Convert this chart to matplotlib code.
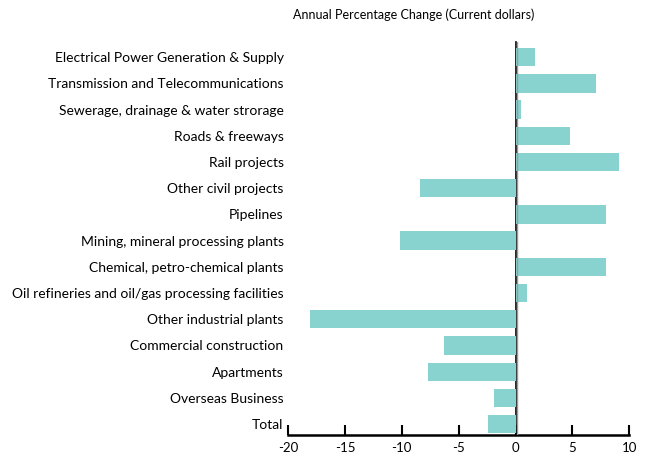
import matplotlib.pyplot as plt
import matplotlib.transforms as mtransforms

# categorias e variação anual (%)
categorias = [
    "Electrical Power Generation & Supply",
    "Transmission and Telecommunications",
    "Sewerage, drainage & water strorage",
    "Roads & freeways",
    "Rail projects",
    "Other civil projects",
    "Pipelines",
    "Mining, mineral processing plants",
    "Chemical, petro-chemical plants",
    "Oil refineries and oil/gas processing facilities",
    "Other industrial plants",
    "Commercial construction",
    "Apartments",
    "Overseas Business",
    "Total",
]
variacao = [1.7, 7.1, 0.5, 4.8, 9.1, -8.4, 8.0, -10.2, 8.0, 1.0, -18.1, -6.3, -7.7, -1.9, -2.4]
ticks_x = [-20, -15, -10, -5, 0, 5, 10]

plt.rcParams['font.family'] = ['Lato', 'DejaVu Sans']

fig = plt.figure(figsize=(6.46, 4.59), dpi=100)
ax = fig.add_axes([0.446, 0.052, 0.528, 0.856])

pos = list(range(len(categorias)))
ax.barh(pos, variacao, height=0.7, color='#88d3d0', zorder=2)

ax.set_ylim(len(categorias) - 0.58, -0.57)
ax.set_xlim(-20, 10)
ax.set_yticks(pos)
ax.set_yticklabels(categorias, fontsize=9.5)
ax.set_xticks(ticks_x)
ax.set_xticklabels([str(t) for t in ticks_x], fontsize=9.5)

# eixo y no zero
for s in ['top', 'right']:
    ax.spines[s].set_visible(False)
ax.spines['left'].set_position(('data', 0))
ax.spines['left'].set_linewidth(1.2)
ax.spines['left'].set_zorder(1)
ax.axvline(0.1, color='#999999', lw=1, zorder=3)
ax.spines['bottom'].set_linewidth(1.8)

ax.tick_params(axis='y', length=0, pad=0)
ax.tick_params(axis='x', direction='in', length=7, width=1.5, pad=5)
# rótulos do y alinhados à esquerda do gráfico
desloc = mtransforms.ScaledTranslation(-(515 - 283) / 100, 0, fig.dpi_scale_trans)
for lbl in ax.get_yticklabels():
    lbl.set_transform(lbl.get_transform() + desloc)

fig.text(0.641, 0.968, "Annual Percentage Change (Current dollars)", fontsize=9, ha='center', va='center')

plt.savefig('out.png', dpi=100)
